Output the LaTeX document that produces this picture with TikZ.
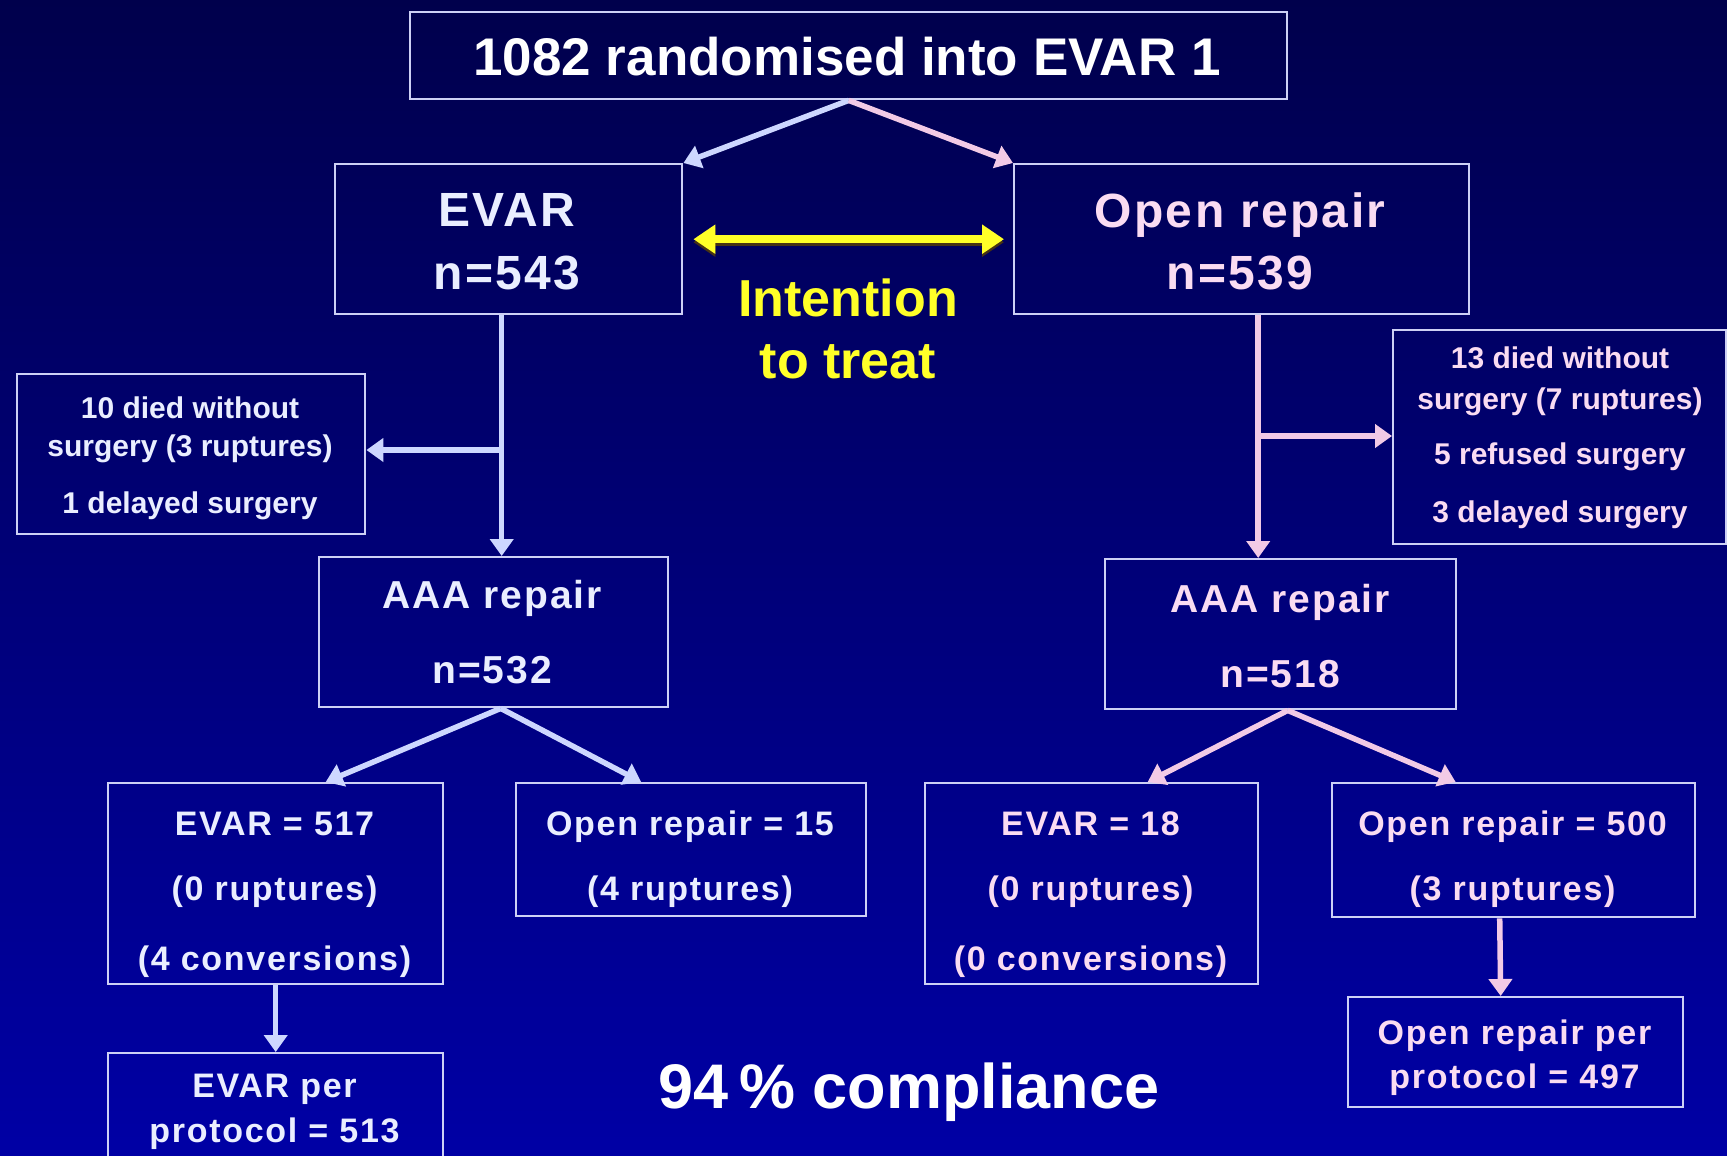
\documentclass[tikz,border=0pt]{standalone}
\usepackage{fontspec}
\setmainfont{Liberation Sans}
\newfontfamily\fsp[LetterSpace=5]{Liberation Sans}
\usetikzlibrary{arrows.meta}
\definecolor{bgtop}{RGB}{0,0,76}
\definecolor{bgbot}{RGB}{0,0,165}
\definecolor{boxline}{RGB}{205,208,245}
\definecolor{bluetxt}{RGB}{234,238,255}
\definecolor{pinktxt}{RGB}{250,220,242}
\definecolor{bluearr}{RGB}{205,215,255}
\definecolor{pinkarr}{RGB}{242,202,230}
\definecolor{yel}{RGB}{255,255,40}
\definecolor{yshadow}{RGB}{70,50,20}
\begin{document}
\begin{tikzpicture}[x=1pt,y=-1pt,
  box/.style={draw=boxline, line width=2.4pt, rectangle, inner sep=0pt, anchor=north west},
  tx/.style={inner sep=0pt, anchor=base},
  ttop/.style={tx, text=white, font=\fontsize{53}{60}\selectfont\bfseries},
  thead/.style={tx, font=\fontsize{48}{56}\selectfont\fsp\bfseries},
  tint/.style={tx, text=yel, font=\fontsize{52}{60}\selectfont\bfseries},
  tside/.style={tx, font=\fontsize{30}{36}\selectfont\bfseries},
  taaa/.style={tx, font=\fontsize{39}{46}\selectfont\fsp\bfseries},
  tsub/.style={tx, font=\fontsize{34}{40}\selectfont\fsp\bfseries},
  tcomp/.style={tx, text=white, font=\fontsize{63}{70}\selectfont\bfseries},
  barrow/.style={draw=bluearr, line width=5.5pt, -{Triangle[width=23pt,length=17pt]}},
  parrow/.style={draw=pinkarr, line width=5.5pt, -{Triangle[width=23pt,length=17pt]}},
  yarrow/.style={draw=yel, line width=8pt, {Triangle[width=28pt,length=22pt]}-{Triangle[width=28pt,length=22pt]}},
  yshad/.style={draw=yshadow, line width=8pt, {Triangle[width=28pt,length=22pt]}-{Triangle[width=28pt,length=22pt]}}
]
\useasboundingbox (0,0) rectangle (1727,1156);
\shade[top color=bgtop, bottom color=bgbot] (0,0) rectangle (1727,1156);
\clip (0,0) rectangle (1727,1156);

% boxes
\node[box, minimum width=877, minimum height=87] (top) at (409,11) {};
\node[box, minimum width=347, minimum height=150] (evar) at (334,163) {};
\node[box, minimum width=455, minimum height=150] (open) at (1013,163) {};
\node[box, minimum width=348, minimum height=160] (sideL) at (16,373) {};
\node[box, minimum width=333, minimum height=214] (sideR) at (1392,329) {};
\node[box, minimum width=349, minimum height=150] (aaaL) at (318,556) {};
\node[box, minimum width=351, minimum height=150] (aaaR) at (1104,558) {};
\node[box, minimum width=335, minimum height=201] (evarA) at (107,782) {};
\node[box, minimum width=350, minimum height=133] (openA) at (515,782) {};
\node[box, minimum width=333, minimum height=201] (evarB) at (924,782) {};
\node[box, minimum width=363, minimum height=134] (openB) at (1331,782) {};
\node[box, minimum width=335, minimum height=128] (evarpp) at (107,1052) {};
\node[box, minimum width=335, minimum height=110] (openpp) at (1347,996) {};

% texts
\node[ttop] (t0) at (847,75) {1082 randomised into EVAR 1};
\node[thead, text=bluetxt] (t1) at (507,226) {EVAR};
\node[thead, text=bluetxt] (t2) at (507,289) {n=543};
\node[thead, text=pinktxt] (t3) at (1240,227) {Open repair};
\node[thead, text=pinktxt] (t4) at (1240,289) {n=539};
\node[tint] (t5) at (848,316) {Intention};
\node[tint] (t6) at (848,378) {to treat};
\node[tside, text=bluetxt] (t7) at (190,418) {10 died without};
\node[tside, text=bluetxt] (t8) at (190,456) {surgery (3 ruptures)};
\node[tside, text=bluetxt] (t9) at (190,513) {1 delayed surgery};
\node[tside, text=pinktxt] (t10) at (1560,368) {13 died without};
\node[tside, text=pinktxt] (t11) at (1560,409) {surgery (7 ruptures)};
\node[tside, text=pinktxt] (t12) at (1560,464) {5 refused surgery};
\node[tside, text=pinktxt] (t13) at (1560,522) {3 delayed surgery};
\node[taaa, text=bluetxt] (t14) at (492,608) {AAA repair};
\node[taaa, text=bluetxt] (t15) at (492,683) {n=532};
\node[taaa, text=pinktxt] (t16) at (1280,612) {AAA repair};
\node[taaa, text=pinktxt] (t17) at (1280,687) {n=518};
\node[tsub, text=bluetxt] (t18) at (274.5,835) {EVAR = 517};
\node[tsub, text=bluetxt] (t19) at (274.5,900) {(0 ruptures)};
\node[tsub, text=bluetxt] (t20) at (274.5,970) {(4 conversions)};
\node[tsub, text=bluetxt] (t21) at (690,835) {Open repair = 15};
\node[tsub, text=bluetxt] (t22) at (690,900) {(4 ruptures)};
\node[tsub, text=pinktxt] (t23) at (1090.5,835) {EVAR = 18};
\node[tsub, text=pinktxt] (t24) at (1090.5,900) {(0 ruptures)};
\node[tsub, text=pinktxt] (t25) at (1090.5,970) {(0 conversions)};
\node[tsub, text=pinktxt] (t26) at (1512.5,835) {Open repair = 500};
\node[tsub, text=pinktxt] (t27) at (1512.5,900) {(3 ruptures)};
\node[tsub, text=bluetxt] (t28) at (274.5,1097) {EVAR per};
\node[tsub, text=bluetxt] (t29) at (274.5,1142) {protocol = 513};
\node[tsub, text=pinktxt] (t30) at (1514.5,1044) {Open repair per};
\node[tsub, text=pinktxt] (t31) at (1514.5,1088) {protocol = 497};
\node[tcomp] (t32) at (909,1108) {94\,\% compliance};

% connectors
\draw[barrow] (top.south) -- (evar.north east);
\draw[parrow] (top.south) -- (open.north west);
\draw[yshad] ([xshift=10pt,yshift=-3pt]evar.east) -- ([xshift=-9pt,yshift=-3pt]open.west);
\draw[yarrow] ([xshift=10pt]evar.east) -- ([xshift=-9pt]open.west);

\draw[barrow] ([xshift=-7pt]evar.south) -- ([xshift=8pt]aaaL.north);
\coordinate (bL) at (500.5,450);
\draw[barrow, line width=6pt] (bL) -- (bL -| sideL.east);

\draw[parrow] ([xshift=16.5pt]open.south) -- ([xshift=-22.5pt]aaaR.north);
\coordinate (bR) at (1257,436);
\draw[parrow, line width=6pt] (bR) -- (bR -| sideR.west);

\draw[barrow] ([xshift=7pt]aaaL.south) -- ([xshift=50pt]evarA.north);
\draw[barrow] ([xshift=7pt]aaaL.south) -- ([xshift=-50pt]openA.north);
\draw[parrow] ([xshift=7pt]aaaR.south) -- ([xshift=56pt]evarB.north);
\draw[parrow] ([xshift=7pt]aaaR.south) -- ([xshift=-58pt]openB.north);

\draw[barrow] (evarA.south) -- (evarpp.north);
\draw[parrow] ([xshift=-14pt]openB.south) -- ([xshift=-15pt]openpp.north);
\end{tikzpicture}
\end{document}
